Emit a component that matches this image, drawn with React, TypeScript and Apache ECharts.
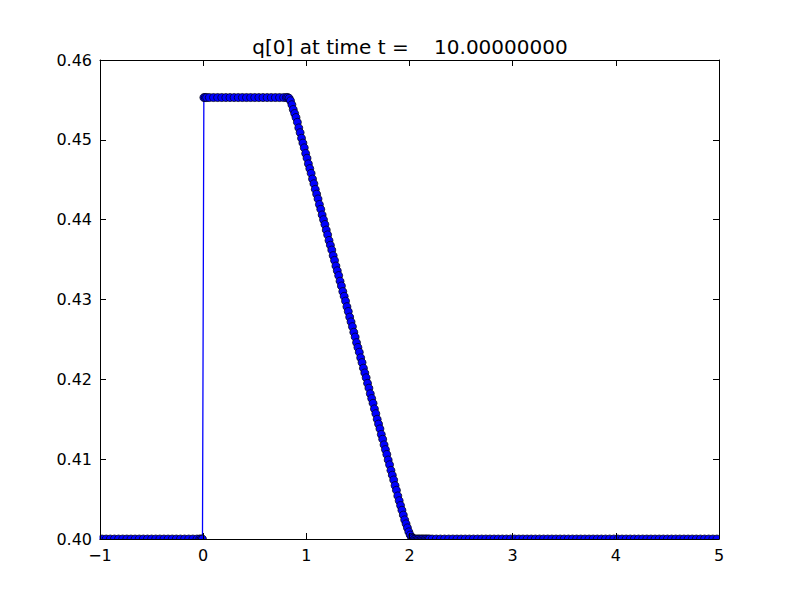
import React, { useEffect, useRef } from "react";
import * as echarts from "echarts";

// AMR grid: coarse cells everywhere, fine patches (ratio 3) near x = 0 and on the ramp
const COARSE_DX = 0.04;
const FINE_DX = 0.04 / 3;

// Each segment: q[0] values
const coarseLeft = [
  0.4, 0.4, 0.4, 0.4, 0.4, 0.4, 0.4, 0.4, 0.4, 0.4,
  0.4, 0.4, 0.4, 0.4, 0.4, 0.4, 0.4, 0.4, 0.4, 0.4,
  0.4, 0.4, 0.4, 0.4,
];
const fineJump = [0.4, 0.4, 0.4, 0.4553, 0.4553, 0.4553];
const coarsePlateau = [
  0.4553, 0.4553, 0.4553, 0.4553, 0.4553, 0.4553, 0.4553, 0.4553, 0.4553, 0.4553,
  0.4553, 0.4553, 0.4553, 0.4553, 0.4553, 0.4553, 0.4553, 0.4553, 0.4553,
];
const fineRamp = [
  0.4553, 0.4553, 0.4552, 0.4549, 0.4544, 0.4538, 0.4533, 0.4528, 0.4522, 0.4515,
  0.4509, 0.4502, 0.4496, 0.449, 0.4483, 0.4477, 0.447, 0.4464, 0.4458, 0.4451,
  0.4445, 0.4438, 0.4432, 0.4426, 0.4419, 0.4413, 0.4406, 0.44, 0.4394, 0.4387,
  0.4381, 0.4374, 0.4368, 0.4362, 0.4355, 0.4349, 0.4342, 0.4336, 0.433, 0.4323,
  0.4317, 0.431, 0.4304, 0.4298, 0.4291, 0.4285, 0.4278, 0.4272, 0.4266, 0.4259,
  0.4253, 0.4246, 0.424, 0.4234, 0.4227, 0.4221, 0.4214, 0.4208, 0.4202, 0.4195,
  0.4189, 0.4182, 0.4176, 0.417, 0.4163, 0.4157, 0.415, 0.4144, 0.4138, 0.4131,
  0.4125, 0.4118, 0.4112, 0.4106, 0.4099, 0.4093, 0.4086, 0.408, 0.4074, 0.4067,
  0.4061, 0.4054, 0.4048, 0.4042, 0.4036, 0.403, 0.4024, 0.4019, 0.4014, 0.4009,
  0.4005, 0.4002, 0.4001, 0.4, 0.4, 0.4, 0.4, 0.4, 0.4, 0.4,
  0.4, 0.4, 0.4, 0.4, 0.4,
];
const coarseRight = [
  0.4, 0.4, 0.4, 0.4, 0.4, 0.4, 0.4, 0.4, 0.4, 0.4,
  0.4, 0.4, 0.4, 0.4, 0.4, 0.4, 0.4, 0.4, 0.4, 0.4,
  0.4, 0.4, 0.4, 0.4, 0.4, 0.4, 0.4, 0.4, 0.4, 0.4,
  0.4, 0.4, 0.4, 0.4, 0.4, 0.4, 0.4, 0.4, 0.4, 0.4,
  0.4, 0.4, 0.4, 0.4, 0.4, 0.4, 0.4, 0.4, 0.4, 0.4,
  0.4, 0.4, 0.4, 0.4, 0.4, 0.4, 0.4, 0.4, 0.4, 0.4,
  0.4, 0.4, 0.4, 0.4, 0.4, 0.4, 0.4, 0.4, 0.4, 0.4,
];

// patch lower edges
const segments = [
  { lower: -1.0, dx: COARSE_DX, values: coarseLeft },
  { lower: -0.04, dx: FINE_DX, values: fineJump },
  { lower: 0.04, dx: COARSE_DX, values: coarsePlateau },
  { lower: 0.8, dx: FINE_DX, values: fineRamp },
  { lower: 2.2, dx: COARSE_DX, values: coarseRight },
];

const xTicks = [-1, 0, 1, 2, 3, 4, 5];
const yTicks = [0.4, 0.41, 0.42, 0.43, 0.44, 0.45, 0.46];
const titleText = "q[0] at time t =    10.00000000";

const seriesData: number[][] = [];
segments.forEach((s) => {
  s.values.forEach((q, i) => {
    seriesData.push([s.lower + (i + 0.5) * s.dx, q]);
  });
});

const FONT = "DejaVu Sans";

export default function App() {
  const ref = useRef<HTMLDivElement>(null);
  useEffect(() => {
    if (!ref.current) return;
    const chart = echarts.init(ref.current, null, { renderer: "svg" });
    const L = 100, R = 81, T = 60, B = 61;
    const axisCommon = {
      z: 10,
      axisLine: { show: true, onZero: false, lineStyle: { color: "#000", width: 1 } },
      axisTick: { show: true, inside: true, length: 6, lineStyle: { color: "#000", width: 1 } },
      splitLine: { show: false },
    };
    chart.setOption({
      animation: false,
      backgroundColor: "#fff",
      title: {
        text: titleText,
        left: 405,
        textAlign: "center",
        top: 32,
        z: 10,
        textStyle: { fontFamily: FONT, fontSize: 20, fontWeight: "normal", color: "#000" },
      },
      grid: { left: L, right: R, top: T, bottom: B, containLabel: false },
      xAxis: [
        {
          ...axisCommon,
          type: "value",
          position: "bottom",
          min: xTicks[0],
          max: xTicks[xTicks.length - 1],
          interval: 1,
          axisLabel: {
            margin: 8,
            fontFamily: FONT,
            fontSize: 16,
            color: "#000",
            formatter: (v: number) => String(v).replace("-", "\u2212"),
          },
        },
        {
          ...axisCommon,
          type: "value",
          position: "top",
          min: xTicks[0],
          max: xTicks[xTicks.length - 1],
          interval: 1,
          axisLabel: { show: false },
        },
      ],
      yAxis: [
        {
          ...axisCommon,
          type: "value",
          position: "left",
          min: yTicks[0],
          max: yTicks[yTicks.length - 1],
          interval: 0.01,
          axisLabel: {
            margin: 8,
            fontFamily: FONT,
            fontSize: 16,
            color: "#000",
            formatter: (v: number) => v.toFixed(2),
          },
        },
        {
          ...axisCommon,
          type: "value",
          position: "right",
          min: yTicks[0],
          max: yTicks[yTicks.length - 1],
          interval: 0.01,
          axisLabel: { show: false },
        },
      ],
      graphic: [
        { type: "rect", z: 5, silent: true, shape: { x: 0, y: 600 - B + 0.5, width: 800, height: B }, style: { fill: "#fff" } },
        { type: "rect", z: 5, silent: true, shape: { x: 0, y: 0, width: L - 0.5, height: 600 }, style: { fill: "#fff" } },
        { type: "rect", z: 5, silent: true, shape: { x: 800 - R + 0.5, y: 0, width: R, height: 600 }, style: { fill: "#fff" } },
      ],
      series: [
        {
          type: "line",
          data: seriesData,
          xAxisIndex: 0,
          yAxisIndex: 0,
          clip: false,
          symbol: "circle",
          symbolSize: 8,
          showAllSymbol: true,
          lineStyle: { color: "#0000ff", width: 1.3 },
          itemStyle: { color: "#0000ff", borderColor: "#000", borderWidth: 0.7 },
          emphasis: { disabled: true },
        },
      ],
    });
    return () => chart.dispose();
  }, []);
  return (
    <div
      ref={ref}
      style={{ position: "absolute", left: 0, top: 0, width: 800, height: 600 }}
    />
  );
}
